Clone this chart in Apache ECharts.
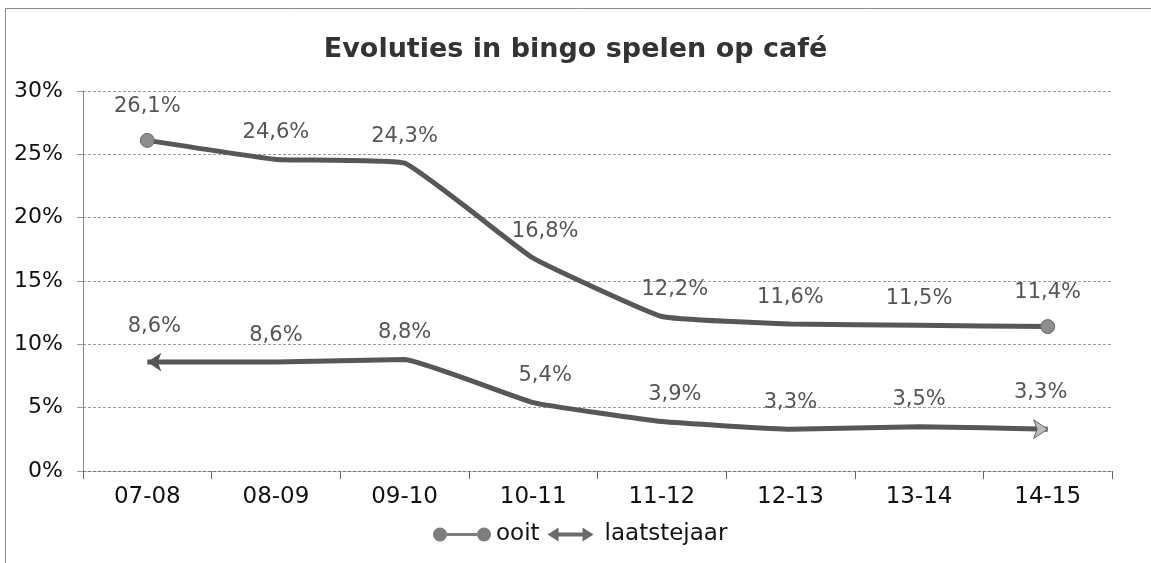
<!DOCTYPE html>
<html>
<head>
<meta charset="utf-8">
<title>Evoluties in bingo spelen op café</title>
<script src="https://cdn.jsdelivr.net/npm/echarts@6/dist/echarts.min.js"></script>
<style>
  html, body { margin: 0; padding: 0; background: #fff; }
  #chart { width: 1151px; height: 563px; }
</style>
</head>
<body>
<div id="chart"></div>
<script>
// schooljaren
const categories = ['07-08', '08-09', '09-10', '10-11', '11-12', '12-13', '13-14', '14-15']
// percentages
const ooit = [26.1, 24.6, 24.3, 16.8, 12.2, 11.6, 11.5, 11.4]
const laatstejaar = [8.6, 8.6, 8.8, 5.4, 3.9, 3.3, 3.5, 3.3]
const yTicks = [0, 5, 10, 15, 20, 25, 30]

const lineColor = '#575757'
const font = 'DejaVu Sans'

// label offsets where Excel nudged the label to the right
const labelShift = { 3: [12, 0], 4: [13, 0] }

function pct(v) {
  return v.toFixed(1).replace('.', ',') + '%'
}

function buildData(values, ends) {
  return values.map((v, i) => {
    const item = { value: v }
    if (i === 0) Object.assign(item, ends.first)
    if (i === values.length - 1) Object.assign(item, ends.last)
    if (labelShift[i]) item.label = { offset: labelShift[i] }
    return item
  })
}

const ooitData = buildData(ooit, {
  first: { symbol: 'circle', symbolSize: 14, itemStyle: { color: '#8d8d8d', borderColor: '#666', borderWidth: 1 } },
  last: { symbol: 'circle', symbolSize: 14, itemStyle: { color: '#8d8d8d', borderColor: '#666', borderWidth: 1 } }
})
const laatsteData = buildData(laatstejaar, {
  first: { symbol: 'arrow', symbolSize: [14, 14], symbolRotate: 90, itemStyle: { color: '#555' } },
  last: { symbol: 'arrow', symbolSize: [14, 14], symbolRotate: -90, itemStyle: { color: '#bdbdbd', borderColor: '#666', borderWidth: 1 } }
})

const dotsIcon = 'path://M0,7a7,7 0 1,0 14,0a7,7 0 1,0 -14,0Z M14,5.5h30v3h-30Z M44,7a7,7 0 1,0 14,0a7,7 0 1,0 -14,0Z'
const arrowIcon = 'path://M0,7L11,0L11,5L35,5L35,0L46,7L35,14L35,9L11,9L11,14Z'

const seriesBase = {
  type: 'line',
  smooth: 0.1,
  symbol: 'circle',
  symbolSize: 1,
  lineStyle: { color: lineColor, width: 5 },
  itemStyle: { color: lineColor },
  label: {
    show: true,
    position: 'top',
    distance: 16,
    color: '#555',
    fontFamily: font,
    fontSize: 21,
    formatter: p => pct(p.value)
  },
  emphasis: { disabled: true }
}

const chartOption = {
  animation: false,
  backgroundColor: '#fff',
  title: {
    text: 'Evoluties in bingo spelen op café',
    left: 'center',
    top: 31,
    textStyle: { fontFamily: font, fontSize: 27, fontWeight: 'bold', color: '#333' }
  },
  graphic: [{
    type: 'rect',
    shape: { x: 5.5, y: 8.5, width: 1200, height: 600 },
    style: { fill: 'none', stroke: '#8a8a8a', lineWidth: 1 },
    silent: true
  }],
  legend: {
    left: 428,
    top: 518,
    itemWidth: 58,
    itemHeight: 14,
    itemGap: 8,
    textStyle: { fontFamily: font, fontSize: 23, color: '#111' },
    data: [
      { name: 'ooit', icon: dotsIcon, itemStyle: { color: '#7d7d7d' } },
      { name: 'laatstejaar', icon: arrowIcon, itemStyle: { color: '#6a6a6a' } }
    ]
  },
  grid: { left: 83, right: 39, top: 91, bottom: 92 },
  xAxis: {
    type: 'category',
    data: categories,
    boundaryGap: true,
    axisLine: { lineStyle: { color: '#777', type: [3, 2], width: 1 } },
    axisTick: { show: true, length: 8, lineStyle: { color: '#666' } },
    axisLabel: { fontFamily: font, fontSize: 23, color: '#111', margin: 15 }
  },
  yAxis: {
    type: 'value',
    min: yTicks[0],
    max: yTicks[yTicks.length - 1],
    interval: 5,
    axisLine: { show: true, lineStyle: { color: '#888' } },
    axisTick: { show: true, length: 6, lineStyle: { color: '#999' } },
    axisLabel: { fontFamily: font, fontSize: 22, color: '#111', margin: 20, formatter: '{value}%' },
    splitLine: { lineStyle: { color: '#9a9a9a', type: [3, 2] } }
  },
  series: [
    Object.assign({}, seriesBase, { name: 'ooit', data: ooitData }),
    Object.assign({}, seriesBase, { name: 'laatstejaar', data: laatsteData })
  ]
}

const chart = echarts.init(document.getElementById('chart'))
chart.setOption(chartOption)
window.addEventListener('resize', () => chart.resize())
</script>
</body>
</html>
